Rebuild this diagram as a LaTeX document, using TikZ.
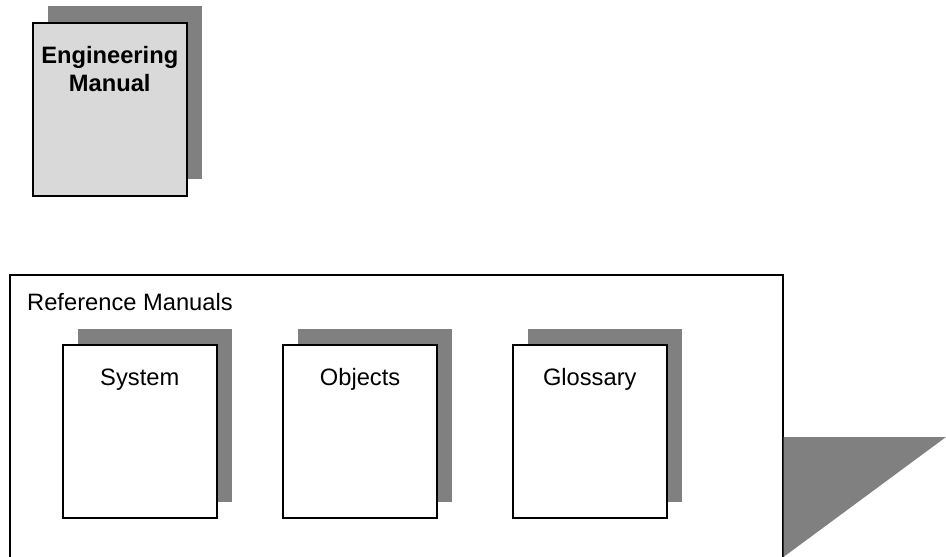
\documentclass[tikz,border=0pt]{standalone}
\usepackage{fontspec}
\setmainfont{Liberation Sans}
\begin{document}
\begin{tikzpicture}[x=1pt,y=-1pt,
  shadowbox/.style={fill=shadowgray,draw=none,inner sep=0pt,
    minimum width=154pt,minimum height=173pt},
  manual/.style={draw=black,line width=1.5pt,inner sep=0pt,
    minimum width=154pt,minimum height=173pt},
  booktitle/.style={font=\fontsize{23.7}{28}\selectfont,anchor=base,inner sep=0pt},
]
\definecolor{shadowgray}{HTML}{808080}
\definecolor{covergray}{HTML}{D9D9D9}
\useasboundingbox (0,0) rectangle (946,557);

% group frame, running past the lower edge
\begin{scope}
  \clip (0,0) rectangle (946,557);
  \node[draw=black,line width=1.5pt,inner sep=0pt,anchor=north west,
        minimum width=773pt,minimum height=300pt] (refgroup) at (9,274) {};
  \fill[shadowgray] (refgroup.east |- 0,437) coordinate (wedgetop)
        -- (946,437) -- (refgroup.east |- 0,557) -- cycle;
\end{scope}
\node[booktitle,anchor=base west] (reftitle) at (27,310) {Reference Manuals};

% engineering manual (base anchor sits on the last line)
\node[shadowbox,anchor=north west] (engshadow) at (48,6) {};
\node[manual,fill=covergray,anchor=north west] (eng) at (32,22) {};
\node[booktitle,font=\fontsize{23.7}{28}\selectfont\bfseries,align=center,anchor=base]
  (engtext) at (eng.north |- 0,91) {Engineering\\Manual};

% reference manuals
\node[shadowbox,anchor=north west] (sysshadow) at (78,329) {};
\node[manual,fill=white,anchor=north west] (sys) at (62,344) {};
\node[booktitle] (systext) at (sys.north |- 0,385) {System};

\node[shadowbox,anchor=north west] (objshadow) at (298,329) {};
\node[manual,fill=white,line width=2.2pt,anchor=north west] (obj) at (282,344) {};
\node[booktitle] (objtext) at (obj.north |- 0,385) {Objects};

\node[shadowbox,anchor=north west] (glosshadow) at (528,329) {};
\node[manual,fill=white,anchor=north west] (glos) at (512,344) {};
\node[booktitle] (glostext) at (glos.north |- 0,385) {Glossary};
\end{tikzpicture}
\end{document}
